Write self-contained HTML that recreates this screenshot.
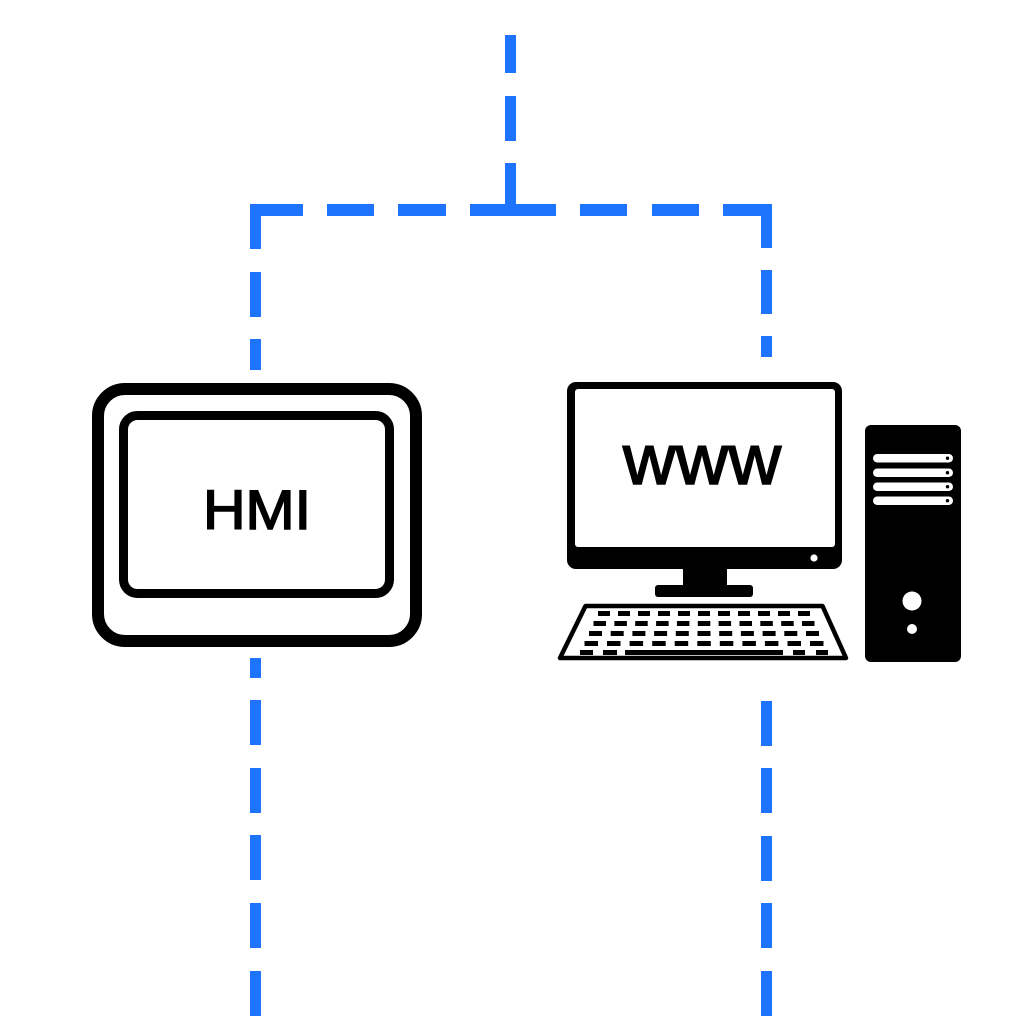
<!DOCTYPE html>
<html>
<head>
<meta charset="utf-8">
<style>
  html,body{margin:0;padding:0;background:#fff;}
  svg{display:block;}
</style>
</head>
<body>
<svg width="1024" height="1024" viewBox="0 0 1024 1024" xmlns="http://www.w3.org/2000/svg">
  <rect width="1024" height="1024" fill="#fff"/>
  <!-- Blue dashed connectors -->
  <g fill="#1E74FD">
    <!-- top vertical -->
    <rect x="505" y="35" width="11" height="38"/>
    <rect x="505" y="96" width="11" height="45"/>
    <rect x="505" y="163" width="11" height="53"/>
    <!-- horizontal -->
    <rect x="250" y="204" width="53" height="12"/>
    <rect x="327" y="204" width="47" height="12"/>
    <rect x="398" y="204" width="48" height="12"/>
    <rect x="470" y="204" width="86" height="12"/>
    <rect x="580" y="204" width="47" height="12"/>
    <rect x="652" y="204" width="47" height="12"/>
    <rect x="723" y="204" width="49" height="12"/>
    <!-- left vertical upper -->
    <rect x="250" y="204" width="11" height="45"/>
    <rect x="250" y="272" width="11" height="45"/>
    <rect x="250" y="339" width="11" height="31"/>
    <!-- right vertical upper -->
    <rect x="761" y="204" width="11" height="44"/>
    <rect x="761" y="270" width="11" height="44"/>
    <rect x="761" y="336" width="11" height="21"/>
    <!-- left vertical lower -->
    <rect x="250" y="658" width="11" height="20"/>
    <rect x="250" y="700" width="11" height="45"/>
    <rect x="250" y="768" width="11" height="45"/>
    <rect x="250" y="835" width="11" height="45"/>
    <rect x="250" y="903" width="11" height="45"/>
    <rect x="250" y="971" width="11" height="45"/>
    <!-- right vertical lower -->
    <rect x="761" y="701" width="11" height="45"/>
    <rect x="761" y="768" width="11" height="45"/>
    <rect x="761" y="836" width="11" height="45"/>
    <rect x="761" y="903" width="11" height="45"/>
    <rect x="761" y="971" width="11" height="45"/>
  </g>

  <!-- HMI panel -->
  <rect x="98" y="389" width="318" height="252" rx="27" ry="27" fill="none" stroke="#000" stroke-width="12"/>
  <rect x="123.5" y="415.5" width="266" height="178" rx="14" ry="14" fill="none" stroke="#000" stroke-width="9"/>
  <text x="203" y="529" font-family="'Liberation Sans', sans-serif" font-size="56" textLength="108" lengthAdjust="spacingAndGlyphs" fill="#000" stroke="#000" stroke-width="1.6">HMI</text>

  <!-- Monitor -->
  <rect x="567" y="382" width="275" height="187" rx="9" ry="9" fill="#000"/>
  <rect x="575" y="389" width="260" height="158" rx="3" ry="3" fill="#fff"/>
  <circle cx="814" cy="558" r="3.6" fill="#fff"/>
  <rect x="683" y="566" width="44" height="21" fill="#000"/>
  <rect x="655" y="585" width="98" height="12" rx="3" ry="3" fill="#000"/>
  <text x="623" y="484" font-family="'Liberation Sans', sans-serif" font-size="71" textLength="158" lengthAdjust="spacingAndGlyphs" fill="#000" stroke="#000" stroke-width="1.6">www</text>

  <!-- Keyboard -->
  <path d="M585.5 606 L822.5 606 L846 658 L560 658 Z" fill="#fff" stroke="#000" stroke-width="4.5" stroke-linejoin="round"/>
  <g fill="#000">
    <!-- row 1 -->
    <rect x="598" y="611" width="12" height="5"/>
    <rect x="618" y="611" width="12" height="5"/>
    <rect x="638" y="611" width="12" height="5"/>
    <rect x="658" y="611" width="12" height="5"/>
    <rect x="678" y="611" width="12" height="5"/>
    <rect x="698" y="611" width="12" height="5"/>
    <rect x="718" y="611" width="12" height="5"/>
    <rect x="738" y="611" width="12" height="5"/>
    <rect x="758" y="611" width="12" height="5"/>
    <rect x="778" y="611" width="12" height="5"/>
    <rect x="798" y="611" width="12" height="5"/>
    <!-- row 2 -->
    <rect x="593.5" y="621" width="12.5" height="5"/>
    <rect x="614.4" y="621" width="12.5" height="5"/>
    <rect x="635.2" y="621" width="12.5" height="5"/>
    <rect x="656.1" y="621" width="12.5" height="5"/>
    <rect x="676.9" y="621" width="12.5" height="5"/>
    <rect x="697.8" y="621" width="12.5" height="5"/>
    <rect x="718.6" y="621" width="12.5" height="5"/>
    <rect x="739.5" y="621" width="12.5" height="5"/>
    <rect x="760.3" y="621" width="12.5" height="5"/>
    <rect x="781.2" y="621" width="12.5" height="5"/>
    <rect x="802" y="621" width="12.5" height="5"/>
    <!-- row 3 -->
    <rect x="589" y="631" width="13" height="5"/>
    <rect x="610.7" y="631" width="13" height="5"/>
    <rect x="632.4" y="631" width="13" height="5"/>
    <rect x="654.1" y="631" width="13" height="5"/>
    <rect x="675.8" y="631" width="13" height="5"/>
    <rect x="697.5" y="631" width="13" height="5"/>
    <rect x="719.2" y="631" width="13" height="5"/>
    <rect x="740.9" y="631" width="13" height="5"/>
    <rect x="762.6" y="631" width="13" height="5"/>
    <rect x="784.3" y="631" width="13" height="5"/>
    <rect x="806" y="631" width="13" height="5"/>
    <!-- row 4 -->
    <rect x="584.5" y="641" width="13.5" height="5"/>
    <rect x="607" y="641" width="13.5" height="5"/>
    <rect x="629.6" y="641" width="13.5" height="5"/>
    <rect x="652.2" y="641" width="13.5" height="5"/>
    <rect x="674.7" y="641" width="13.5" height="5"/>
    <rect x="697.3" y="641" width="13.5" height="5"/>
    <rect x="719.8" y="641" width="13.5" height="5"/>
    <rect x="742.4" y="641" width="13.5" height="5"/>
    <rect x="764.9" y="641" width="13.5" height="5"/>
    <rect x="787.5" y="641" width="13.5" height="5"/>
    <rect x="810" y="641" width="13.5" height="5"/>
    <!-- row 5 -->
    <rect x="580" y="650" width="13" height="5"/>
    <rect x="603" y="650" width="14" height="5"/>
    <rect x="625" y="650" width="158" height="5"/>
    <rect x="793" y="650" width="12" height="5"/>
    <rect x="816" y="650" width="12" height="5"/>
  </g>

  <!-- Tower -->
  <rect x="865" y="425" width="96" height="237" rx="6" ry="6" fill="#000"/>
  <g fill="#fff">
    <rect x="873" y="454" width="80" height="8.5" rx="4.2" ry="4.2"/>
    <rect x="873" y="468.5" width="80" height="8.5" rx="4.2" ry="4.2"/>
    <rect x="873" y="482.5" width="80" height="8.5" rx="4.2" ry="4.2"/>
    <rect x="873" y="496.5" width="80" height="8.5" rx="4.2" ry="4.2"/>
    <circle cx="912" cy="601" r="9.5"/>
    <circle cx="912" cy="629" r="5"/>
  </g>
  <g fill="#000">
    <circle cx="947.5" cy="458.2" r="1.7"/>
    <circle cx="947.5" cy="472.7" r="1.7"/>
    <circle cx="947.5" cy="486.7" r="1.7"/>
    <circle cx="947.5" cy="500.7" r="1.7"/>
  </g>
</svg>
</body>
</html>
